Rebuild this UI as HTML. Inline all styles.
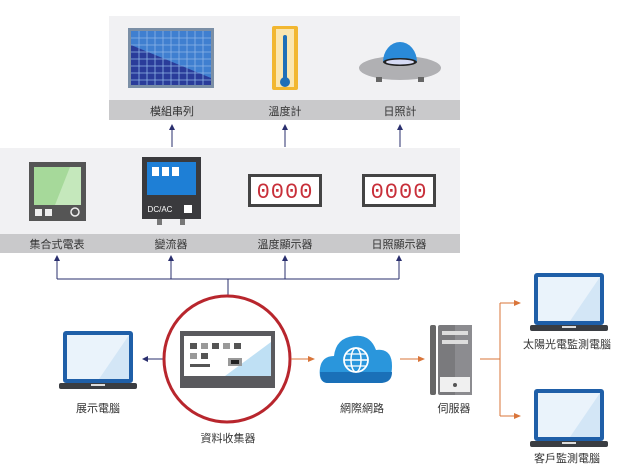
<!DOCTYPE html>
<html><head><meta charset="utf-8"><style>
html,body{margin:0;padding:0;background:#fff;width:623px;height:466px;overflow:hidden}
svg text{font-family:"Liberation Sans","Noto Sans CJK TC",sans-serif;font-size:11px;fill:#333;text-anchor:middle}
</style></head><body>
<svg width="623" height="466" viewBox="0 0 623 466" xmlns="http://www.w3.org/2000/svg">
<defs>
<marker id="an" markerWidth="6" markerHeight="6" refX="5" refY="3" orient="auto"><path d="M0,0 L6,3 L0,6 z" fill="#2a2f6e"/></marker>
<marker id="ao" markerWidth="7" markerHeight="6" refX="6" refY="3" orient="auto"><path d="M0,0 L7,3 L0,6 z" fill="#d9753a"/></marker>
<g id="lap">
<rect x="4" y="0" width="70" height="52" rx="3" fill="#1f5fa8"/>
<rect x="8" y="4" width="62" height="44" fill="#eaf3fb"/>
<path d="M40,48 L70,4 L70,48 z" fill="#d3e6f6"/>
<rect x="0" y="52" width="78" height="6" rx="2" fill="#3a3d42"/>
<rect x="32" y="53" width="14" height="2" fill="#ddd"/>
</g>
</defs>
<!-- top panel -->
<rect x="109" y="16" width="351" height="104" fill="#f1f1f3"/>
<rect x="109" y="100" width="351" height="20" fill="#c9c9cb"/>
<text x="172" y="115">模組串列</text><text x="285" y="115">溫度計</text><text x="400" y="115">日照計</text>
<!-- solar panel -->
<rect x="128" y="28" width="86" height="60" fill="#7b8fa6"/>
<rect x="131" y="31" width="80" height="54" fill="#2a3c9a"/>
<path d="M131,31 L211,31 L211,78 L131,45 z" fill="#3f7fd0"/>
<g stroke="#8fb4e6" stroke-width="0.8">
<line x1="131" y1="38" x2="211" y2="38"/><line x1="131" y1="45" x2="211" y2="45"/><line x1="131" y1="52" x2="211" y2="52"/><line x1="131" y1="59" x2="211" y2="59"/><line x1="131" y1="66" x2="211" y2="66"/><line x1="131" y1="73" x2="211" y2="73"/><line x1="131" y1="80" x2="211" y2="80"/>
<line x1="139" y1="31" x2="139" y2="85"/><line x1="147" y1="31" x2="147" y2="85"/><line x1="155" y1="31" x2="155" y2="85"/><line x1="163" y1="31" x2="163" y2="85"/><line x1="171" y1="31" x2="171" y2="85"/><line x1="179" y1="31" x2="179" y2="85"/><line x1="187" y1="31" x2="187" y2="85"/><line x1="195" y1="31" x2="195" y2="85"/><line x1="203" y1="31" x2="203" y2="85"/>
</g>
<!-- thermometer -->
<rect x="272" y="26" width="26" height="64" rx="2" fill="#f2b731"/>
<rect x="276" y="29" width="18" height="58" fill="#fbe6b0"/>
<rect x="283" y="35" width="4" height="46" rx="2" fill="#1f6fb8"/>
<circle cx="285" cy="82" r="5" fill="#1f6fb8"/>
<!-- sun meter -->
<ellipse cx="400" cy="68" rx="41" ry="12" fill="#b0b0b3"/>
<path d="M383,62 A17,20 0 0 1 417,62 z" fill="#2a8ad8"/>
<ellipse cx="400" cy="62" rx="17" ry="4" fill="#222"/>
<ellipse cx="400" cy="62" rx="14" ry="2.5" fill="#d6dbf5"/>
<rect x="376" y="77" width="6" height="5" fill="#666"/><rect x="418" y="77" width="6" height="5" fill="#666"/>
<!-- arrows up -->
<g stroke="#2a2f6e" stroke-width="1" marker-end="url(#an)">
<line x1="172" y1="147" x2="172" y2="125"/><line x1="285" y1="147" x2="285" y2="125"/><line x1="400" y1="147" x2="400" y2="125"/>
</g>
<!-- second panel -->
<rect x="0" y="148" width="460" height="105" fill="#f1f1f3"/>
<rect x="0" y="234" width="460" height="19" fill="#c9c9cb"/>
<text x="57" y="248">集合式電表</text><text x="171" y="248">變流器</text><text x="285" y="248">溫度顯示器</text><text x="399" y="248">日照顯示器</text>
<!-- meter -->
<rect x="29" y="162" width="57" height="59" fill="#555"/>
<rect x="34" y="167" width="47" height="38" fill="#a6d99a"/>
<path d="M55,205 L70,167 L81,167 L81,205 z" fill="#c5e8bc"/>
<rect x="35" y="209" width="7" height="7" fill="#eee"/><rect x="45" y="209" width="7" height="7" fill="#eee"/>
<circle cx="75" cy="212" r="4" fill="none" stroke="#eee" stroke-width="1.5"/>
<!-- inverter -->
<rect x="142" y="157" width="59" height="62" fill="#3a3a3d"/>
<rect x="147" y="162" width="49" height="33" fill="#1e7fd6"/>
<rect x="152" y="167" width="7" height="9" fill="#fff"/><rect x="162" y="167" width="7" height="9" fill="#fff"/><rect x="172" y="167" width="7" height="9" fill="#fff"/>
<text x="160" y="212" style="font-size:8px;fill:#fff">DC/AC</text>
<rect x="184" y="205" width="8" height="8" fill="#fff"/>
<rect x="157" y="219" width="5" height="6" fill="#777"/><rect x="180" y="219" width="5" height="6" fill="#777"/>
<!-- displays -->
<g font-family="Liberation Mono">
<rect x="248" y="174" width="74" height="33" fill="#444"/><rect x="251" y="177" width="68" height="27" fill="#fff"/>
<text x="285" y="198" style="font-family:'Liberation Mono',monospace;font-size:22px;fill:#c8303a;letter-spacing:1px">0000</text>
<rect x="362" y="174" width="74" height="33" fill="#444"/><rect x="365" y="177" width="68" height="27" fill="#fff"/>
<text x="399" y="198" style="font-family:'Liberation Mono',monospace;font-size:22px;fill:#c8303a;letter-spacing:1px">0000</text>
</g>
<!-- connectors -->
<g stroke="#2a2f6e" stroke-width="1" fill="none">
<line x1="57" y1="279" x2="399" y2="279"/><line x1="228" y1="279" x2="228" y2="296"/>
<line x1="57" y1="279" x2="57" y2="256" marker-end="url(#an)"/>
<line x1="171" y1="279" x2="171" y2="256" marker-end="url(#an)"/>
<line x1="285" y1="279" x2="285" y2="256" marker-end="url(#an)"/>
<line x1="399" y1="279" x2="399" y2="256" marker-end="url(#an)"/>
<line x1="163" y1="359" x2="143" y2="359" marker-end="url(#an)"/>
</g>
<!-- ellipse -->
<ellipse cx="227" cy="359" rx="63" ry="63" fill="#fff" stroke="#b8262d" stroke-width="3"/>
<rect x="180" y="331" width="95" height="57" fill="#5a5a5e"/>
<rect x="184" y="336" width="87" height="40" fill="#fff"/>
<path d="M225,376 L271,342 L271,376 z" fill="#bfe0f4"/>
<g fill="#555"><rect x="190" y="343" width="7" height="6"/><rect x="201" y="343" width="7" height="6" fill="#999"/><rect x="212" y="343" width="7" height="6"/><rect x="223" y="343" width="7" height="6" fill="#999"/><rect x="234" y="343" width="7" height="6"/><rect x="190" y="353" width="7" height="6" fill="#999"/><rect x="201" y="353" width="7" height="6"/><rect x="190" y="364" width="20" height="3"/><rect x="228" y="358" width="14" height="8" fill="#999"/><rect x="231" y="360" width="8" height="4" fill="#222"/></g>
<text x="228" y="442">資料收集器</text>
<!-- left laptop -->
<use href="#lap" x="59" y="331"/>
<text x="98" y="412">展示電腦</text>
<!-- orange arrows -->
<g stroke="#d9753a" stroke-width="1" fill="none">
<line x1="291" y1="359" x2="314" y2="359" marker-end="url(#ao)"/>
<line x1="400" y1="359" x2="424" y2="359" marker-end="url(#ao)"/>
<line x1="480" y1="359" x2="500" y2="359"/><line x1="500" y1="303" x2="500" y2="416"/>
<line x1="500" y1="303" x2="520" y2="303" marker-end="url(#ao)"/>
<line x1="500" y1="416" x2="520" y2="416" marker-end="url(#ao)"/>
</g>
<!-- cloud -->
<path d="M328,383 Q318,383 320,368 Q322,356 334,356 Q336,338 354,336 Q370,334 376,350 Q392,348 392,366 Q392,383 380,383 z" fill="#2a96dc"/>
<path d="M320,372 L392,372 Q392,383 380,383 L328,383 Q320,383 320,372 z" fill="#1a70b8"/>
<circle cx="356" cy="360" r="12" fill="none" stroke="#fff" stroke-width="1.8"/>
<ellipse cx="356" cy="360" rx="5" ry="12" fill="none" stroke="#fff" stroke-width="1.5"/>
<line x1="344" y1="360" x2="368" y2="360" stroke="#fff" stroke-width="1.5"/>
<line x1="346" y1="354" x2="366" y2="354" stroke="#fff" stroke-width="1.2"/><line x1="346" y1="366" x2="366" y2="366" stroke="#fff" stroke-width="1.2"/>
<text x="362" y="412">網際網路</text>
<!-- server -->
<rect x="430" y="325" width="6" height="70" rx="2" fill="#666"/>
<rect x="438" y="325" width="34" height="70" rx="2" fill="#7a7a7d"/>
<rect x="455" y="325" width="17" height="70" fill="#8c8c90"/>
<rect x="442" y="331" width="26" height="4" fill="#ddd"/><rect x="442" y="340" width="26" height="4" fill="#ddd"/>
<rect x="440" y="377" width="30" height="15" fill="#f0f0f0"/><circle cx="455" cy="385" r="2" fill="#555"/>
<text x="454" y="412">伺服器</text>
<!-- right laptops -->
<use href="#lap" x="530" y="273"/>
<text x="567" y="348">太陽光電監測電腦</text>
<use href="#lap" x="530" y="389"/>
<text x="567" y="462">客戶監測電腦</text>
</svg>
</body></html>
